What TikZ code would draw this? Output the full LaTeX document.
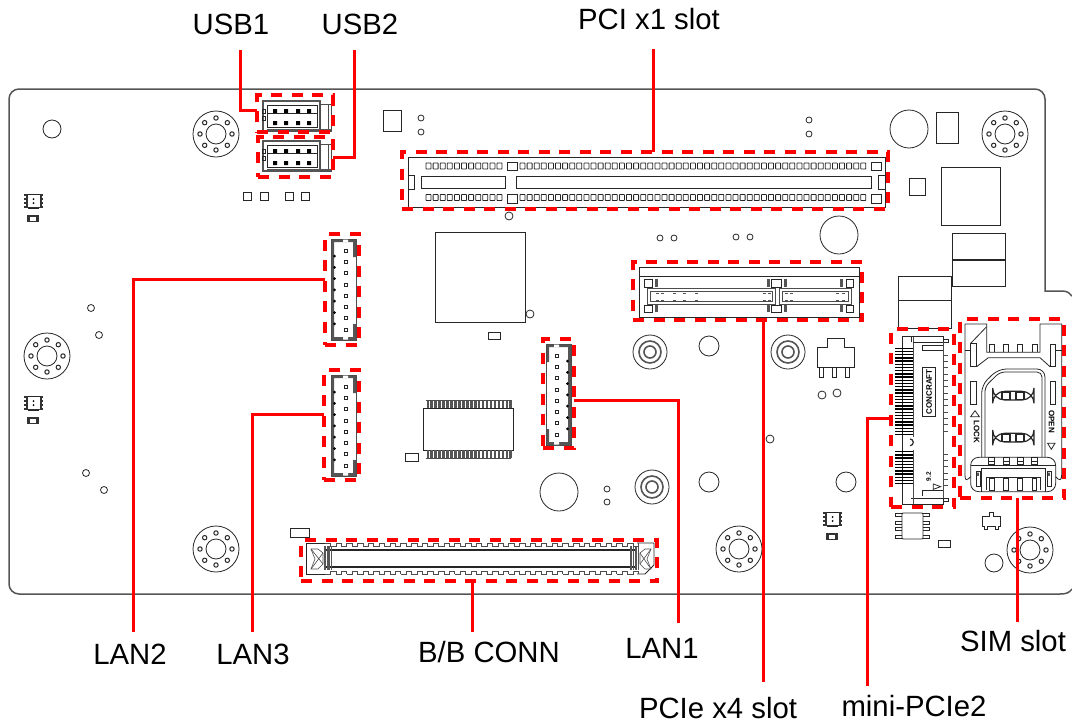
\documentclass[tikz,border=0pt]{standalone}
\usepackage{fontspec}
\setmainfont{Liberation Sans}
\usetikzlibrary{fit}

\definecolor{hotred}{RGB}{255,0,0}
\definecolor{wallgray}{RGB}{85,85,85}

\tikzset{
  part/.style={draw=black!85, line width=.8pt},
  thinpart/.style={draw=black!70, line width=.6pt},
  edgeline/.style={draw=wallgray, line width=1.5pt},
  hotbox/.style={draw=hotred, line width=3.5pt, dash pattern=on 11pt off 9.5pt, inner sep=0pt, outer sep=0pt},
  leader/.style={draw=hotred, line width=3pt},
  tag/.style={font=\fontsize{29.3}{32}\selectfont, text=black, inner sep=0pt}
}

\newcommand{\mounthole}[2]{
  \begin{scope}[shift={(#1,#2)}]
    \draw[part] (0,0) circle[radius=23];
    \draw[part] (0,0) circle[radius=10];
    \foreach \a in {0,45,...,315}
      \draw[part, line width=1pt] (\a:16) circle[radius=2.2];
  \end{scope}
}
\newcommand{\coaxring}[2]{
  \draw[part] (#1,#2) circle[radius=17];
  \draw[part, line width=1.6pt, draw=wallgray] (#1,#2) circle[radius=11];
  \draw[part, line width=1.6pt, draw=wallgray] (#1,#2) circle[radius=6];
}
\newcommand{\ledpart}[2]{
  \begin{scope}[shift={(#1,#2)}]
    \fill[black!80] (0,0) rectangle (19,14);
    \fill[white] (3.5,1) rectangle (15.5,13);
    \foreach \y in {3,7,11} {
      \fill[white] (0,\y-.8) rectangle (1.5,\y+.8);
      \fill[white] (17.5,\y-.8) rectangle (19,\y+.8);
    }
    \draw[part] (4,0) -- (15,0) (4,14) -- (15,14);
    \fill (9.5,5) circle[radius=1] (9.5,9) circle[radius=1];
    \fill[black!80] (3,21) rectangle (15,28);
    \fill[white] (6,22.5) rectangle (12,26.5);
  \end{scope}
}
\newcommand{\lanconn}[3]{
  \begin{scope}[shift={(#1,#2)}, xscale=#3]
    \fill[wallgray] (0,0) rectangle (25,3) (0,98) rectangle (25,101) (0,0) rectangle (3,101);
    \fill[wallgray] (22,3) rectangle (25,18) (22,85) rectangle (25,98);
    \draw[thinpart] (0,0) rectangle (25,101);
    \fill[white] (12,0.5) rectangle (17,3) (12,98) rectangle (17,100.5);
    \foreach \i in {0,...,7}
      \draw[part] (13,10+11.3*\i) rectangle ++(3,3);
    \foreach \i in {0,...,6}
      \fill (3.5,17+11.3*\i) circle[radius=1.5];
  \end{scope}
}
\newcommand{\usbconn}[2]{
  \begin{scope}[shift={(#1,#2)}]
    \draw[wallgray, line width=1.5pt] (-1,-1) rectangle (56,29);
    \draw[part] (3,3) rectangle (53,25);
    \draw[part] (3,11) -- (53,11);
    \draw[thinpart] (56,2) rectangle (67,29);
    \draw[thinpart] (64,2) -- (64,29);
    \draw[part] (-2,7) rectangle (1,11) (-2,14) rectangle (1,18);
    \foreach \x in {11,22,34,45}
      \fill (\x-2,7) rectangle ++(4,4) (\x-2,19) rectangle ++(4,4);
    \fill[wallgray] (3,26.5) rectangle (67,29);
  \end{scope}
}

\begin{document}
\begin{tikzpicture}[x=1pt, y=-1pt]
  \useasboundingbox (0,0) rectangle (1072,726);

  \draw[edgeline, rounded corners=10pt] (1045,200) -- (1045,89) -- (9,89) -- (9,594) -- (1060,594);
  \draw[edgeline] (1045,200) -- (1045,291) -- (1062,291) .. controls (1067,291) and (1070,293) .. (1072,296);
  \draw[edgeline] (1060,594) .. controls (1066,594) and (1069,593) .. (1072,589);

  \foreach \x/\y in {216/134,1005/134,47/356,216/549,739/549,1030/550}
    {\mounthole{\x}{\y}}
  \foreach \x/\y in {650/352,788/352,652/487}
    {\coaxring{\x}{\y}}
  \foreach \x/\y/\r in {52/129/9,909/129/19,839/235/19,559/492/19,709/346/10,709/482/10,846/482/10,994/563/9,
      421/118/3,421/132/3,809/120/3,809/134/3,660/238/3,674/238/3,736/237/3,750/237/3,509/216/4,
      91/308/3.5,99/335/3.5,86/473/3.5,104/490/3.5,530/314/4,770/439/4,822/395/4,837/393/4,607/489/3,607/502/3}
    \draw[part] (\x,\y) circle[radius=\r];
  \foreach \xa/\ya/\xb/\yb in {383/110/401/131,243/192/251/200,260/192/268/200,285/192/293/200,301/192/309/200,
      909/178/925/195,936/112/958/143,941/167/1000/225,952/233/1005/259,952/260/1005/286,898/276/951/300,898/300/951/328,
      435/232/525/322,488/332/500/339,405/453/418/461,290/528/309/537,938/540/950/547}
    \draw[part] (\xa,\ya) rectangle (\xb,\yb);
  \foreach \x/\y in {24/194,24/396,823/512}
    {\ledpart{\x}{\y}}

  % small chip in the middle
  \draw[part] (423,408) rectangle (513,450);
  \foreach \i in {0,...,21} {
    \fill[wallgray] (426.5+3.95*\i,400) rectangle ++(2.6,8);
    \fill[wallgray] (426.5+3.95*\i,450) rectangle ++(2.6,8);
  }
  \draw[thinpart] (426,400) -- (511,400) (426,458) -- (511,458);

  % parts near the lower right
  \draw[part] (817,347) -- (827,347) -- (827,338) -- (844,338) -- (844,347) -- (854,347) -- (854,367) -- (817,367) -- cycle;
  \foreach \x in {821,834,847}
    \draw[part] (\x-2,367) -- (\x-2,377) -- (\x+2,377) -- (\x+2,367);
  \draw[part, rounded corners=1pt] (902,513) rectangle (923,539);
  \foreach \y in {515,523,529,537} {
    \draw[part] (902,\y-1.5) -- (895,\y-1.5) -- (895,\y+1.5) -- (902,\y+1.5);
    \draw[part] (923,\y-1.5) -- (929,\y-1.5) -- (929,\y+1.5) -- (923,\y+1.5);
  }
  \draw[part] (982,516) -- (989,516) -- (989,512) -- (993,512) -- (993,516) -- (1000,516) -- (1000,526) -- (998,526) -- (998,529) -- (995,529) -- (995,526)
    -- (987,526) -- (987,529) -- (984,529) -- (984,526) -- (982,526) -- cycle;

  \usbconn{264}{102}
  \usbconn{264}{142}

  \lanconn{331}{239}{1}
  \lanconn{331}{375}{1}
  \lanconn{571}{344}{-1}

  % PCI x1 slot
  \draw[part] (408,157) rectangle (885,207);
  \draw[part] (421,176) rectangle (505,188);
  \draw[part] (516,176) rectangle (871,188);
  \draw[part] (408,175) rectangle (414,189);
  \draw[part] (878,175) rectangle (885,189);
  \foreach \y/\ya/\yb in {166/162/170,197.5/194/203} {
    \foreach \i in {0,...,10}
      \draw[part, rounded corners=.5pt] (426+7.1*\i,\y-3) rectangle ++(5,6);
    \foreach \i in {0,...,48}
      \draw[part, rounded corners=.5pt] (520+7.1*\i,\y-3) rectangle ++(5,6);
    \draw[part] (507,\ya) rectangle (517,\yb);
    \draw[part] (871,\ya) rectangle (881,\yb);
  }

  % PCIe x4 slot
  \draw[part] (639,267) rectangle (859,317);
  \draw[part] (639,276) -- (859,276);
  \foreach \xa/\xb in {647/775,779/851} {
    \draw[thinpart] (\xa,288) rectangle (\xb,304);
    \draw[thinpart] (\xa+3,291) rectangle (\xb-3,301);
  }
  \foreach \y/\yb in {279/287,305/312} {
    \draw[part] (644,\y) rectangle (652,\yb);
    \draw[part] (846,\y) rectangle (853,\yb);
    \draw[part] (771,\y) rectangle (781,\yb);
    \foreach \x in {656,768,785,841}
      \fill[wallgray] (\x-1.5,\y) rectangle (\x+1.5,\yb);
  }
  \foreach \x in {656,661,673,683,695,763,768,785,790,836,842} {
    \draw[wallgray, line width=.8pt] (\x,293) -- ++(2.5,0);
    \draw[wallgray, line width=.8pt] (\x,300) -- ++(2.5,0);
  }

  % B/B connector
  \draw[part] (306,543) -- (325,543) (306,543) -- (306,574) -- (325,574);
  \draw[part] (637,543) -- (654,543) -- (654,565) -- (645,574) -- (637,574);
  \draw[black!85, line width=1.8pt] (325,550) -- (637,550) (325,567) -- (637,567);
  \foreach \i in {0,...,28} {
    \draw[thinpart] (325+10.8*\i,543) -- ++(5.4,0) -- ++(0,3) -- ++(5.4,0) -- ++(0,-3);
    \draw[thinpart] (325+10.8*\i,574) -- ++(5.4,0) -- ++(0,-3) -- ++(5.4,0) -- ++(0,3);
  }
  \foreach \x in {325,329,631,636} {
    \draw[wallgray, line width=1.2pt] (\x,546) -- (\x,570);
    \draw[wallgray, line width=1.2pt] (\x+2.5,546) -- (\x+2.5,570);
  }
  \draw[thinpart] (311,549) -- (318,549) -- (323,553) -- (323,564) -- (318,569) -- (311,569) -- (315,559) -- cycle;
  \draw[thinpart] (651,549) -- (645,549) -- (640,553) -- (640,564) -- (645,569) -- (651,569) -- (647,559) -- cycle;
  \draw[thinpart] (311,549) -- (323,564) (311,569) -- (323,553);
  \draw[thinpart] (651,549) -- (640,564) (651,569) -- (640,553);

  % mini-PCIe socket
  \begin{scope}[shift={(880,310)}, x=.3333pt, y=-.3333pt]
    \draw[part] (100,80) -- (66,80) -- (66,582) -- (190,582) -- (190,565) -- (93,565);
    \draw[thinpart] (100,80) -- (100,380) (100,420) -- (100,582);
    \draw[part] (93,97) -- (93,80) -- (190,80) -- (190,97) -- (100,97);
    \draw[part] (190,88) rectangle (205,97) (190,566) rectangle (205,575);
    \draw[part] (190,105) -- (128,105) -- (128,122) -- (190,122);
    \draw[thinpart] (190,97) -- (190,565);
    \draw[part] (128,558) -- (128,540) -- (190,540);
    \draw[part] (160,522) -- (182,530) -- (160,538) -- cycle;
    \draw[part] (128,172) rectangle (165,318);
    \node[rotate=90, font=\fontsize{8}{8}\selectfont\bfseries, inner sep=0pt] (concraft) at (147,245) {CONCRAFT};
    \node[rotate=90, font=\fontsize{6.5}{7}\selectfont\bfseries, inner sep=0pt] (sizemark) at (146,500) {9.2};
    \foreach \y in {115,124.6,...,375}
      \draw[black, line width=1.3pt] (45,\y) -- (100,\y);
    \foreach \y in {425,434.6,...,530}
      \draw[black, line width=1.3pt] (45,\y) -- (100,\y);
    \foreach \y in {135,154,...,375}
      \draw[black!70, line width=.9pt] (190,\y) -- (203,\y);
    \foreach \y in {432,451,...,530}
      \draw[black!70, line width=.9pt] (190,\y) -- (203,\y);
    \draw[black!85, line width=1.2pt] (90,387) arc[start angle=-90, end angle=90, radius=10];
  \end{scope}

  % SIM holder
  \begin{scope}[shift={(880,310)}, x=.3333pt, y=-.3333pt]
    \draw[part] (272,500) .. controls (258,515) and (255,510) .. (255,495) -- (255,42) -- (320,42) -- (320,127) -- (480,127) -- (480,42) -- (545,42) -- (545,495) .. controls (545,510) and (540,515) .. (527,500);
    \draw[part] (272,100) -- (320,50);
    \foreach \x in {335,378,420,465}
      \draw[part] (\x-7,127) -- (\x-7,103) -- (\x+7,103) -- (\x+7,127);
    \draw[part] (255,122) -- (272,122) (545,122) -- (527,122);
    \draw[part] (272,170) -- (272,100) -- (290,100) -- (290,170) -- cycle;
    \draw[part] (510,170) -- (510,103) -- (527,103) -- (527,170) -- cycle;
    \draw[part] (290,170) -- (325,143) -- (480,143) -- (510,170);
    \draw[part, rounded corners=8pt] (305,442) -- (305,225) -- (355,177) -- (495,177) -- (495,442);
    \draw[part, rounded corners=5pt] (315,442) -- (315,230) -- (360,186) -- (486,186) -- (486,442);
    \draw[part] (272,215) rectangle (290,283) (510,215) rectangle (527,283);
    \draw[part] (272,320) -- (285,302) -- (298,320) -- cycle;
    \draw[part] (503,400) -- (525,400) -- (514,418) -- cycle;
    \node[rotate=-90, font=\fontsize{8}{8}\selectfont\bfseries, inner sep=0pt] (locklabel) at (290,365) {LOCK};
    \node[rotate=-90, font=\fontsize{8}{8}\selectfont\bfseries, inner sep=0pt] (openlabel) at (515,335) {OPEN};
    \foreach \y in {257,383} {
      \draw[black!85, line width=1.2pt, rounded corners=12pt] (338,\y-13) rectangle (462,\y+13);
      \foreach \x in {378,420}
        \draw[black!85, line width=1.2pt] (\x-12,\y-11) rectangle (\x+12,\y+11);
    }
    \draw[part, rounded corners=8pt] (272,545) -- (272,442) -- (527,442) -- (527,545) -- cycle;
    \draw[part] (272,465) -- (527,465);
    \draw[part] (305,475) -- (495,475) (305,475) -- (305,545) (495,475) -- (495,545);
    \draw[part] (320,540) -- (320,502) -- (480,502) -- (480,540);
    \foreach \x in {335,378,420,463} {
      \draw[part] (\x-9,442) rectangle (\x+9,463);
      \draw[part] (\x-9,453) -- (\x+9,453);
      \draw[part] (\x-7,505) rectangle (\x+7,540);
    }
    \draw[part] (288,483) rectangle (300,530) (501,483) rectangle (513,530);
    \fill[wallgray] (291,488) rectangle (297,498) (504,488) rectangle (510,498);
  \end{scope}

  % marked areas
  \node[hotbox, fit={(257,95) (333,132)}] (usbonebox) {};
  \node[hotbox, fit={(258,137) (333,177)}] (usbtwobox) {};
  \node[hotbox, fit={(402,152) (888,209)}] (pcibox) {};
  \node[hotbox, fit={(325,234) (359,345)}] (lantwobox) {};
  \node[hotbox, fit={(324,370) (359,480)}] (lanthreebox) {};
  \node[hotbox, fit={(543,339) (574,448)}] (lanonebox) {};
  \node[hotbox, fit={(633,262) (862,320)}] (pciebox) {};
  \node[hotbox, fit={(891,329) (954,507)}] (minibox) {};
  \node[hotbox, fit={(960,319) (1064,498)}] (simbox) {};
  \node[hotbox, fit={(301,540) (657,581)}] (bbbox) {};

  \node[tag] (usbonetag) at (231,24) {USB1};
  \node[tag] (usbtwotag) at (360,24) {USB2};
  \node[tag] (pcitag) at (649,19) {PCI x1 slot};
  \node[tag] (lantwotag) at (130,654) {LAN2};
  \node[tag] (lanthreetag) at (253,654) {LAN3};
  \node[tag] (bbtag) at (489,652) {B/B CONN};
  \node[tag] (lanonetag) at (662,648) {LAN1};
  \node[tag] (pcietag) at (718,708) {PCIe x4 slot};
  \node[tag] (minitag) at (914,706) {mini-PCIe2};
  \node[tag] (simtag) at (1013,641) {SIM slot};

  \coordinate (usbonetop) at (240,50);
  \coordinate (usbtwotop) at (354,50);
  \coordinate (pcitop) at (653,49);
  \coordinate (lantwoend) at (133,632);
  \coordinate (lanthreeend) at (252,632);
  \coordinate (lanoneend) at (678,623);
  \coordinate (pcieend) at (763,682);
  \coordinate (miniend) at (867,686);
  \coordinate (simend) at (1017,622);
  \coordinate (bbend) at (472,632);

  \draw[leader] (usbonetop) |- (usbonebox.west |- 0,110);
  \draw[leader] (usbtwotop) |- (usbtwobox.east);
  \draw[leader] (pcibox.north -| pcitop) -- (pcitop);
  \draw[leader] (lantwoend) |- (lantwobox.west |- 0,279);
  \draw[leader] (lanthreeend) |- (lanthreebox.west |- 0,414);
  \draw[leader] (lanoneend) |- (lanonebox.east |- 0,400);
  \draw[leader] (pciebox.south -| pcieend) -- (pcieend);
  \draw[leader] (miniend) |- (minibox.west |- 0,418);
  \draw[leader] (simbox.south -| simend) -- (simend);
  \draw[leader] (bbbox.south -| bbend) -- (bbend);
\end{tikzpicture}
\end{document}
